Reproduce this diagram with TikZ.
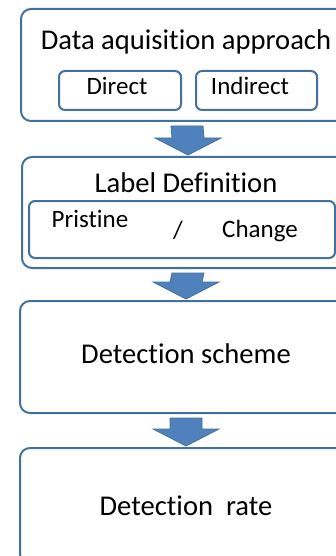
\documentclass[tikz,border=0pt]{standalone}
\usepackage{fontspec}
\setmainfont{Carlito}[Ligatures=NoCommon]
\usetikzlibrary{calc}
\definecolor{boxline}{HTML}{41719C}
\definecolor{arrowfill}{HTML}{4F81BD}
\tikzset{
  outerbox/.style={draw=boxline, line width=2pt, rounded corners=10pt, minimum width=332pt, minimum height=112pt, inner sep=0pt, anchor=north west},
  innerbox/.style={draw=boxline, line width=2pt, rounded corners=6pt, inner sep=0pt, anchor=north west},
  bigtext/.style={font=\fontsize{28.6}{34}\selectfont, anchor=base, inner sep=0pt},
  smalltext/.style={font=\fontsize{25}{30}\selectfont, anchor=base, inner sep=0pt},
  blockarrow/.style={fill=arrowfill, draw=boxline, line width=0.8pt, line join=miter}
}
\newcommand{\downarrowblock}[2]{%
  \path[blockarrow] ($(#1.south)+(-16,4)$) -- ($(#1.south)+(16,4)$) -- ($(#2.north)+(16,-18)$) -- ($(#2.north)+(33,-18)$) -- ($(#2.north)+(0,-1)$) -- ($(#2.north)+(-33,-18)$) -- ($(#2.north)+(-16,-18)$) -- cycle;}
\begin{document}
\begin{tikzpicture}[x=1pt,y=-1pt]
\useasboundingbox (0,0) rectangle (336,556);
\clip (0,0) rectangle (336,556);
\fill[white] (0,0) rectangle (336,556);
% outer boxes
\node[outerbox] (b1) at (20,8) {};
\node[outerbox, minimum height=111pt] (b2) at (21,156) {};
\node[outerbox] (b3) at (19,300) {};
\node[outerbox, minimum height=116pt] (b4) at (19,447) {};
% box 1 content
\node[bigtext] (t1) at (186,49.5) {Data aquisition approach};
\node[innerbox, minimum width=122pt, minimum height=39pt] (direct) at (58,70) {};
\node[innerbox, minimum width=121pt, minimum height=39pt] (indirect) at (195,70) {};
\node[smalltext] (tdirect) at (117,95) {Direct};
\node[smalltext] (tindirect) at (250,95) {Indirect};
% box 2 content
\node[bigtext] (t2) at (186,192) {Label Definition};
\node[innerbox, minimum width=306pt, minimum height=57pt] (lab) at (28,200) {};
\node[smalltext] (tpristine) at (90,227) {Pristine};
\node[smalltext] (tslash) at (178,238) {/};
\node[smalltext] (tchange) at (260,237) {Change};
% box 3 and 4 content
\node[bigtext] (t3) at (186,363) {Detection scheme};
\node[bigtext] (t4) at (186,515) {Detection\ \ rate};
% arrows
\downarrowblock{b1}{b2}
\downarrowblock{b2}{b3}
\downarrowblock{b3}{b4}
\end{tikzpicture}
\end{document}
